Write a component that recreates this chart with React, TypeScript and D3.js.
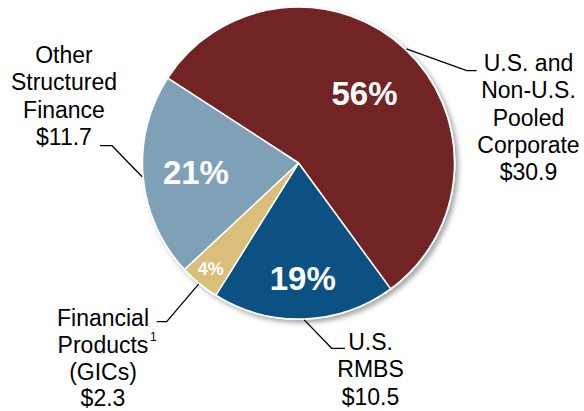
import React from "react";
import * as d3 from "d3";

const categories = [
  "U.S. and Non-U.S. Pooled Corporate",
  "U.S. RMBS",
  "Financial Products (GICs)",
  "Other Structured Finance",
];
const values = [30.9, 10.5, 2.3, 11.7];
const percentLabels = ["56%", "19%", "4%", "21%"];
const labelLines = [
  ["U.S. and", "Non-U.S.", "Pooled", "Corporate", "$30.9"],
  ["U.S.", "RMBS", "$10.5"],
  ["Financial", "Products", "(GICs)", "$2.3"],
  ["Other", "Structured", "Finance", "$11.7"],
];
const colors = ["#722425", "#0B5283", "#DBBE79", "#7FA1B7"];

// layout (styling/positions)
const W = 584;
const H = 411;
const cx = 298.5;
const cy = 163;
const R = 156;
const pctRadius = [96, 116, 138, 103];
const pctSize = [33, 33, 18, 33];
const elbows = [
  { ex: 466.7, ey: 70.7, hx: 476.7 },
  { ex: 331.7, ey: 348.3, hx: 345 },
  { ex: 166.7, ey: 321.7, hx: 156.7 },
  { ex: 112, ey: 145.7, hx: 100 },
];
const textBlocks = [
  { x: 528.5, y0: 71, lh: 27.3 },
  { x: 370.5, y0: 350, lh: 27.3 },
  { x: 103, y0: 326, lh: 26.8 },
  { x: 64, y0: 63, lh: 27.3 },
];

export default function App() {
  const pie = d3
    .pie<number>()
    .sort(null)
    .startAngle((-57 * Math.PI) / 180)
    .endAngle((303 * Math.PI) / 180);
  const arcs = pie(values);
  const arc = d3.arc<d3.PieArcDatum<number>>().innerRadius(0).outerRadius(R);

  const polar = (a: number, r: number) => [Math.sin(a) * r, -Math.cos(a) * r];

  return (
    <svg width={W} height={H} style={{ position: "absolute", left: 0, top: 0 }}>
      <defs>
        <filter id="sh" x="-20%" y="-20%" width="140%" height="140%">
          <feDropShadow dx="3" dy="3" stdDeviation="2.5" floodColor="#000" floodOpacity="0.35" />
        </filter>
      </defs>
      <g transform={`translate(${cx},${cy})`}>
        <circle r={R + 1} fill="#fff" filter="url(#sh)" />
        {arcs.map((d, i) => (
          <path key={i} d={arc(d) || ""} fill={colors[i]} stroke="#fff" strokeWidth={1.5} strokeLinejoin="round" />
        ))}
        {arcs.map((d, i) => {
          const mid = (d.startAngle + d.endAngle) / 2;
          const [x, y] = polar(mid, pctRadius[i]);
          return (
            <text
              key={i}
              x={x}
              y={y}
              textAnchor="middle"
              dominantBaseline="central"
              fill="#fff"
              fontFamily="Liberation Sans, Arial, sans-serif"
              fontWeight="bold"
              fontSize={pctSize[i]}
            >
              {percentLabels[i]}
            </text>
          );
        })}
      </g>
      {arcs.map((d, i) => {
        const mid = (d.startAngle + d.endAngle) / 2;
        const [x, y] = polar(mid, R + 1);
        const e = elbows[i];
        return (
          <polyline
            key={i}
            points={`${cx + x},${cy + y} ${e.ex},${e.ey} ${e.hx},${e.ey}`}
            fill="none"
            stroke="#000"
            strokeWidth={1.3}
          />
        );
      })}
      {labelLines.map((lines, i) => (
        <text
          key={i}
          fontFamily="Liberation Sans, Arial, sans-serif"
          fontSize={23}
          fill="#000"
          textAnchor="middle"
        >
          {lines.map((ln, j) => (
            <tspan key={j} x={textBlocks[i].x} y={textBlocks[i].y0 + j * textBlocks[i].lh}>
              {ln}
            </tspan>
          ))}
        </text>
      ))}
      <text x={150} y={341} fontFamily="Liberation Sans, Arial, sans-serif" fontSize={12} fill="#000">
        1
      </text>
    </svg>
  );
}
